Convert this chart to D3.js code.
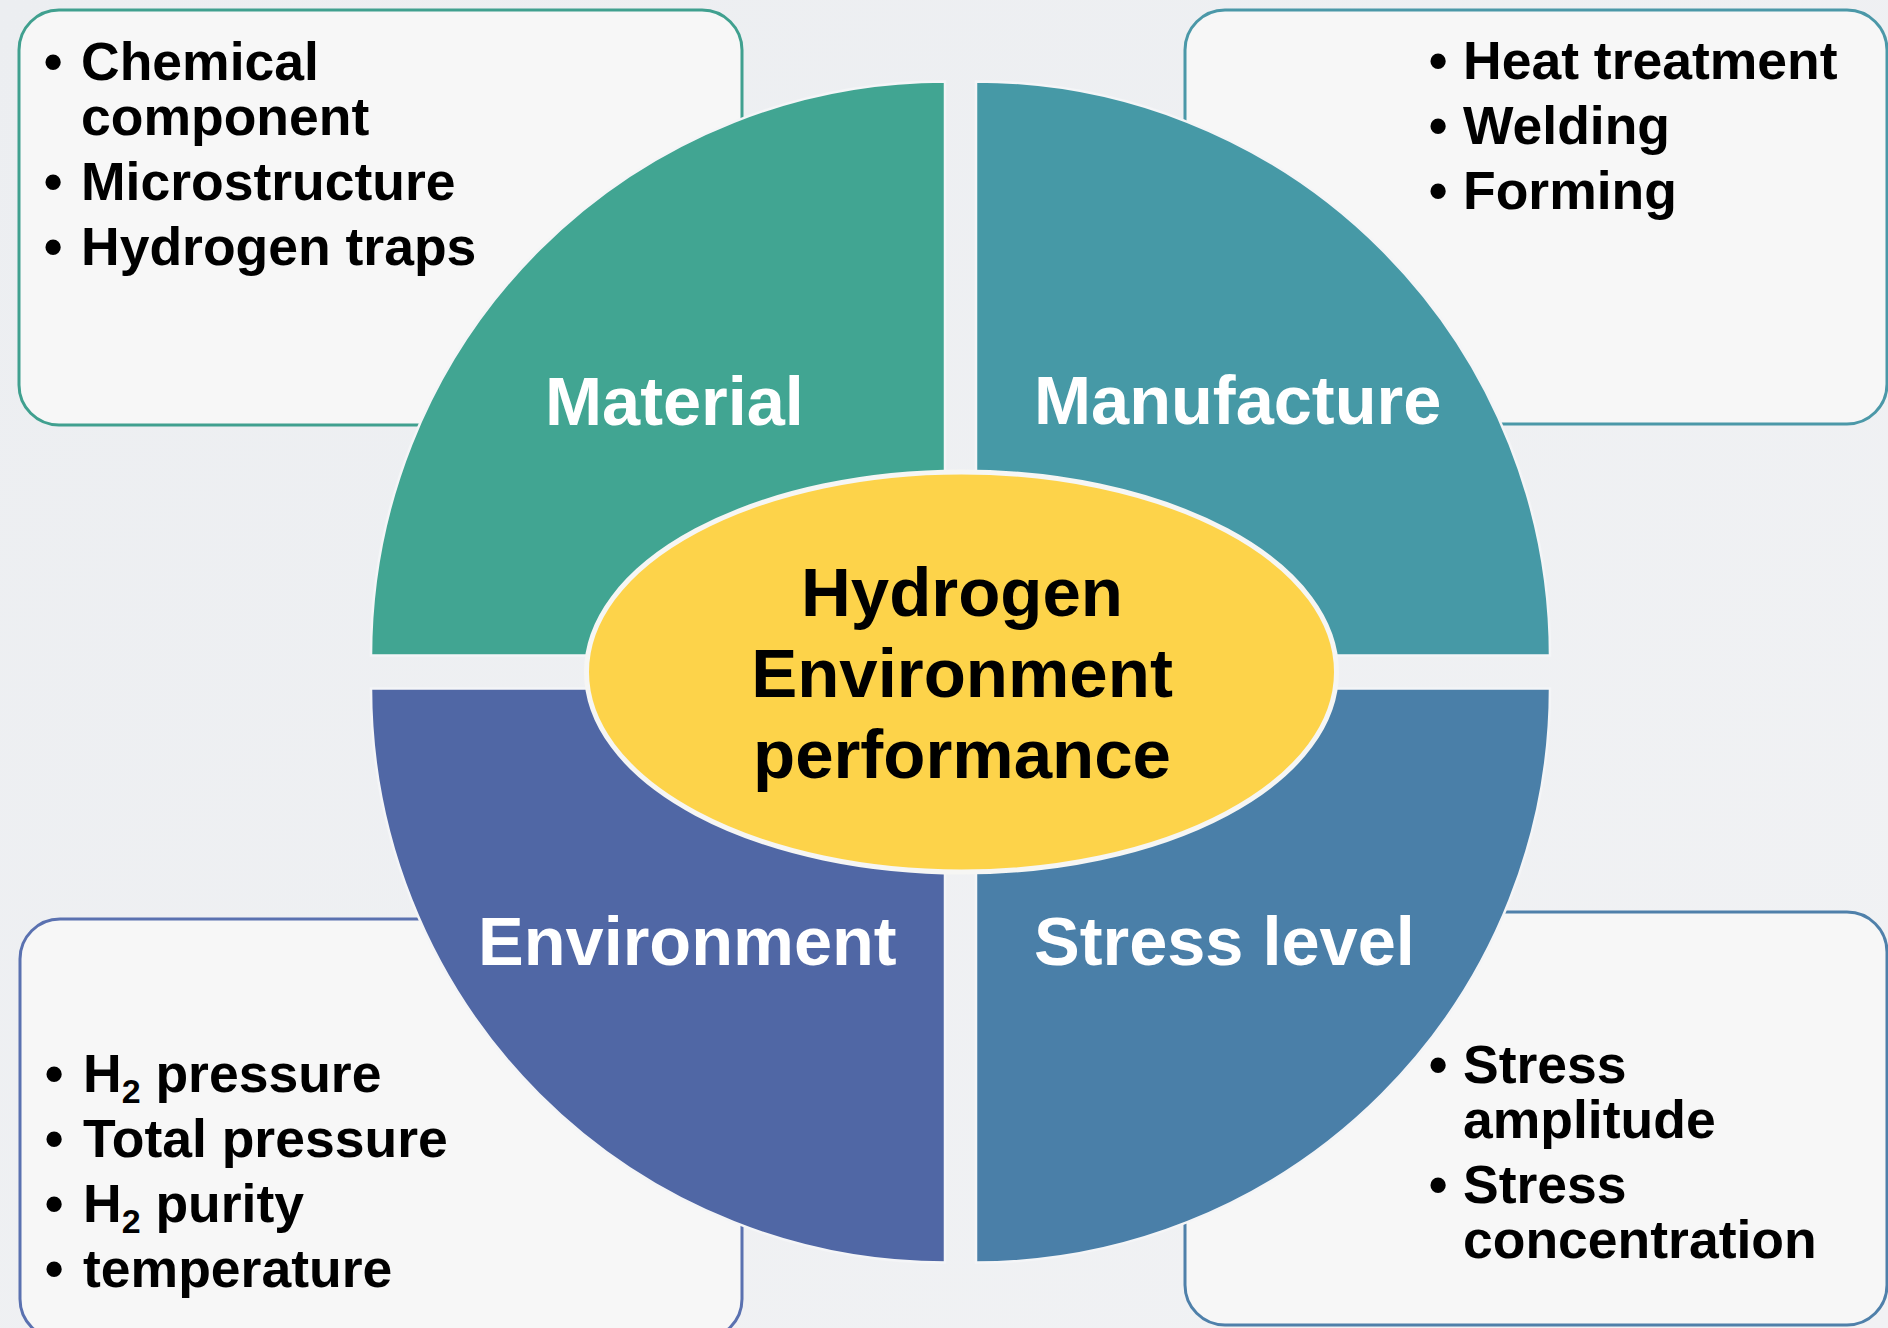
<!DOCTYPE html>
<html>
<head>
<meta charset="utf-8">
<script src="https://cdn.jsdelivr.net/npm/d3@7"></script>
<style>
  html, body { margin: 0; padding: 0; background: #eeeff2; }
  svg { display: block; }
  text { font-family: "Liberation Sans", Arial, Helvetica, sans-serif; font-weight: bold; }
</style>
</head>
<body>
<svg id="chart" width="1888" height="1328"></svg>
<script>
// ---------- data ----------
// quadrants, clockwise from 12 o'clock
const categories = ["Manufacture", "Stress level", "Environment", "Material"];
const categoryWeights = [1, 1, 1, 1];
const categoryColors = ["#4699a6", "#4a7fa8", "#5067a5", "#41a592"];
const boxStrokeColors = ["#4b98a8", "#4f80aa", "#5a71b0", "#40a08f"];
const centerLines = ["Hydrogen", "Environment", "performance"];
// "_2" marks a subscript 2
const manufactureItems = [["Heat treatment"], ["Welding"], ["Forming"]];
const stressItems = [["Stress", "amplitude"], ["Stress", "concentration"]];
const environmentItems = [["H_2 pressure"], ["Total pressure"], ["H_2 purity"], ["temperature"]];
const materialItems = [["Chemical", "component"], ["Microstructure"], ["Hydrogen traps"]];
const itemLists = [manufactureItems, stressItems, environmentItems, materialItems];

// ---------- layout ----------
const W = 1888, H = 1328;
const cx = 960.5, cy = 672;
const gapX = 15.5, gapY = 16.5;
const R = 574;
const ell = { rx: 375, ry: 200 };
const labelFont = 68.5, centerFont = 69, itemFont = 53.5;
const lineStep = 55, itemStep = 65;

// per quadrant layout (same order as categories)
const quadLayout = [
  { dx: 1, dy: -1, label: { x: 1034, y: 424 },
    box: { x: 1185, y: 10, w: 702, h: 414 }, bulletX: 1438, textX: 1463, firstY: 79 },
  { dx: 1, dy: 1, label: { x: 1034, y: 965 },
    box: { x: 1185, y: 912, w: 702, h: 413 }, bulletX: 1438, textX: 1463, firstY: 1083 },
  { dx: -1, dy: 1, label: { x: 478, y: 965 },
    box: { x: 20, y: 919, w: 722, h: 420 }, bulletX: 54, textX: 83, firstY: 1092 },
  { dx: -1, dy: -1, label: { x: 545, y: 425 },
    box: { x: 19, y: 10, w: 723, h: 415 }, bulletX: 53, textX: 81, firstY: 80 }
];

const svg = d3.select("#chart");

// background
const defs = svg.append("defs");
const bg = defs.append("linearGradient").attr("id", "bg").attr("x1", 0).attr("y1", 0).attr("x2", 1).attr("y2", 1);
bg.append("stop").attr("offset", "0%").attr("stop-color", "#eceef1");
bg.append("stop").attr("offset", "100%").attr("stop-color", "#f1f2f4");
svg.append("rect").attr("width", W).attr("height", H).attr("fill", "url(#bg)");

// boxes (behind the quadrants)
const boxG = svg.append("g");
categories.forEach((c, i) => {
  const b = quadLayout[i].box;
  boxG.append("rect")
    .attr("x", b.x).attr("y", b.y).attr("width", b.w).attr("height", b.h)
    .attr("rx", 40).attr("ry", 40)
    .attr("fill", "#f7f7f7")
    .attr("stroke", boxStrokeColors[i]).attr("stroke-width", 3);
});

// quadrants via d3.pie + d3.arc
const pie = d3.pie().sort(null).value(d => d)(categoryWeights);
const arc = d3.arc().innerRadius(0).outerRadius(R);
const quadG = svg.append("g");
pie.forEach((p, i) => {
  const L = quadLayout[i];
  quadG.append("path")
    .attr("d", arc(p))
    .attr("transform", `translate(${cx + L.dx * gapX},${cy + L.dy * gapY})`)
    .attr("fill", categoryColors[i])
    .attr("stroke", "#f4f5f7").attr("stroke-width", 2.5)
    .attr("stroke-linejoin", "miter");
});

// quadrant labels
categories.forEach((c, i) => {
  const L = quadLayout[i];
  svg.append("text")
    .attr("x", L.label.x).attr("y", L.label.y)
    .attr("font-size", labelFont)
    .attr("fill", "#ffffff")
    .text(c);
});

// center ellipse
svg.append("ellipse")
  .attr("cx", cx + 1).attr("cy", cy)
  .attr("rx", ell.rx).attr("ry", ell.ry)
  .attr("fill", "#fdd34a")
  .attr("stroke", "#f6f6f4").attr("stroke-width", 5);

const centerBaselines = [616, 697, 778];
centerLines.forEach((t, i) => {
  svg.append("text")
    .attr("x", cx + 1.5).attr("y", centerBaselines[i])
    .attr("text-anchor", "middle")
    .attr("font-size", centerFont)
    .attr("fill", "#000")
    .text(t);
});

// bullet lists
function addLine(g, x, y, str) {
  const t = g.append("text").attr("x", x).attr("y", y)
    .attr("font-size", itemFont).attr("fill", "#000");
  const parts = str.split("_2");
  parts.forEach((part, k) => {
    if (k > 0) {
      t.append("tspan").attr("font-size", 34).attr("dy", 11).text("2");
      t.append("tspan").attr("dy", -11).text(part);
    } else {
      t.append("tspan").text(part);
    }
  });
}

itemLists.forEach((items, i) => {
  const L = quadLayout[i];
  const g = svg.append("g");
  let y = L.firstY;
  items.forEach((lines, j) => {
    if (j > 0) y += itemStep;
    g.append("text")
      .attr("x", L.bulletX).attr("y", y)
      .attr("text-anchor", "middle")
      .attr("font-size", itemFont).attr("fill", "#000")
      .text("\u2022");
    lines.forEach((ln, k) => {
      if (k > 0) y += lineStep;
      addLine(g, L.textX, y, ln);
    });
  });
});
</script>
</body>
</html>
